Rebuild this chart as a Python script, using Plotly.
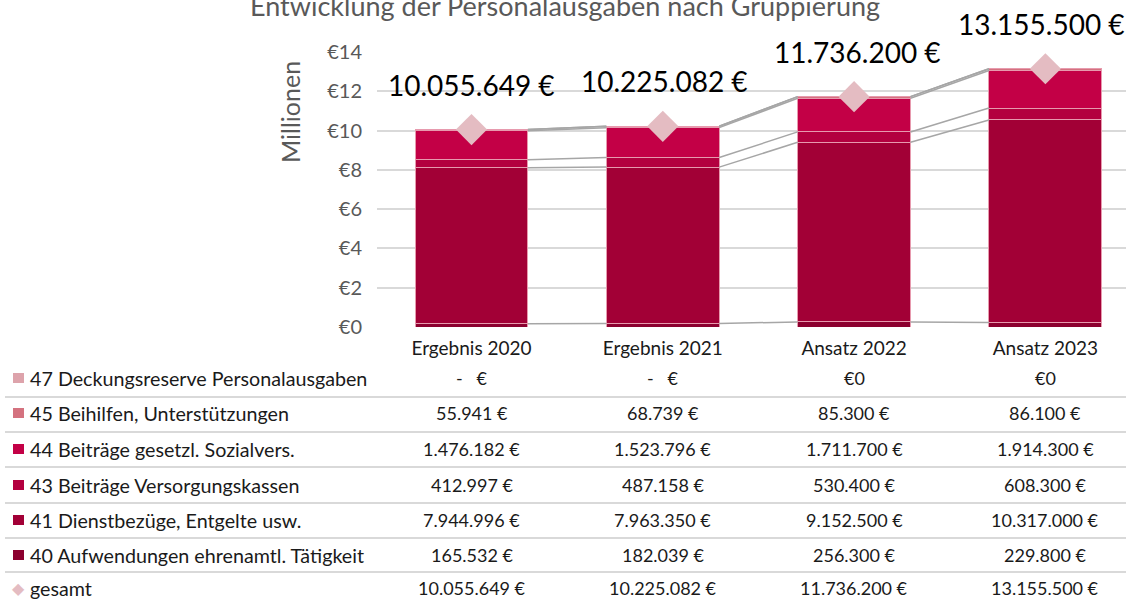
import plotly.graph_objects as go

# ---------------- data ----------------
categories = ["Ergebnis 2020", "Ergebnis 2021", "Ansatz 2022", "Ansatz 2023"]

# stacked from bottom to top
series_names = [
    "40 Aufwendungen ehrenamtl. Tätigkeit",
    "41 Dienstbezüge, Entgelte usw.",
    "43 Beiträge Versorgungskassen",
    "44 Beiträge gesetzl. Sozialvers.",
    "45 Beihilfen, Unterstützungen",
    "47 Deckungsreserve Personalausgaben",
]
v40 = [165532, 182039, 256300, 229800]
v41 = [7944996, 7963350, 9152500, 10317000]
v43 = [412997, 487158, 530400, 608300]
v44 = [1476182, 1523796, 1711700, 1914300]
v45 = [55941, 68739, 85300, 86100]
v47 = [0, 0, 0, 0]
gesamt = [10055649, 10225082, 11736200, 13155500]
zero_labels = ["-\u00a0\u00a0\u00a0€", "-\u00a0\u00a0\u00a0€", "€0", "€0"]

series_values = [v40, v41, v43, v44, v45, v47]
series_colors = ["#8C002F", "#A20036", "#B3003F", "#C30046", "#D4727F", "#DDA3AB"]
diamond_color = "#E4BCC2"

title = "Entwicklung der Personalausgaben nach Gruppierung"
y_unit_label = "Millionen"

# ---------------- layout geometry ----------------
W, H = 1126, 599
ML, MR, MT, MB = 377, 0, 52, 272
PW = W - ML - MR
PH = H - MT - MB
BAR_W = 0.59
FONT = "Lato"


def px_x(px):
    return (px - ML) / PW


def px_y(py):
    return (H - MB - py) / PH


def fmt(v):
    return f"{v:,.0f}".replace(",", ".") + " €"


xs = list(range(len(categories)))
fig = go.Figure()

# stacked bars
for name, vals, col in zip(series_names, series_values, series_colors):
    fig.add_trace(go.Bar(
        x=xs, y=[v / 1e6 for v in vals], name=name, width=BAR_W,
        marker=dict(color=col, line=dict(color="#E79AAE", width=1)),
        hoverinfo="skip",
    ))

# series lines between bars
cum = [0.0] * len(categories)
lx, ly = [], []
for vals in series_values:
    cum = [c + v / 1e6 for c, v in zip(cum, vals)]
    for i in range(len(categories) - 1):
        lx += [xs[i] + BAR_W / 2, xs[i + 1] - BAR_W / 2, None]
        ly += [cum[i], cum[i + 1], None]
fig.add_trace(go.Scatter(x=lx, y=ly, mode="lines",
                         line=dict(color="#A6A6A6", width=1.5),
                         hoverinfo="skip", showlegend=False))

# gesamt diamonds
fig.add_trace(go.Scatter(
    x=xs, y=[g / 1e6 for g in gesamt], mode="markers", name="gesamt",
    marker=dict(symbol="diamond", size=24, color=diamond_color),
    cliponaxis=False, hoverinfo="skip",
))

annotations = []
# data labels above diamonds
label_xshift = [0, 2, 3, -4]
for i, g in enumerate(gesamt):
    annotations.append(dict(
        x=xs[i], y=g / 1e6, xref="x", yref="y", text=fmt(g), showarrow=False,
        yshift=45, xshift=label_xshift[i],
        font=dict(family=FONT, size=28, color="#000000"),
    ))

# title (cropped at top like the reference)
annotations.append(dict(
    x=px_x(565), y=px_y(5), xref="paper", yref="paper", text=title,
    showarrow=False, xanchor="center", yanchor="middle",
    font=dict(family=FONT, size=27, color="#595959"),
))

# display-unit label
annotations.append(dict(
    x=px_x(290), y=px_y(112), xref="paper", yref="paper", text=y_unit_label,
    showarrow=False, xanchor="center", yanchor="middle", textangle=-90,
    font=dict(family=FONT, size=25, color="#595959"),
))

# data table
row_centers = [378, 413, 449, 485, 520, 555, 588]
table_rows = list(reversed(list(zip(series_names, series_values, series_colors))))
shapes = []
for r, (name, vals, col) in enumerate(table_rows):
    yc = row_centers[r]
    shapes.append(dict(type="rect", xref="paper", yref="paper",
                       x0=px_x(13), x1=px_x(24), y0=px_y(yc - 5), y1=px_y(yc + 5),
                       fillcolor=col, line=dict(width=0)))
    annotations.append(dict(x=px_x(28), y=px_y(yc), xref="paper", yref="paper",
                            text=name, showarrow=False, xanchor="left", yanchor="middle",
                            font=dict(family=FONT, size=19.7, color="#1a1a1a")))
    for i, v in enumerate(vals):
        txt = fmt(v) if v != 0 else zero_labels[i]
        annotations.append(dict(x=xs[i], y=px_y(yc), xref="x", yref="paper",
                                text=txt, showarrow=False, xanchor="center", yanchor="middle",
                                font=dict(family=FONT, size=18, color="#1a1a1a")))
# gesamt row
yc = row_centers[-1]
annotations.append(dict(x=px_x(18), y=px_y(yc), xref="paper", yref="paper",
                        text="◆", showarrow=False, xanchor="center", yanchor="middle",
                        font=dict(family="DejaVu Sans", size=16, color=diamond_color)))
annotations.append(dict(x=px_x(28), y=px_y(yc), xref="paper", yref="paper",
                        text="gesamt", showarrow=False, xanchor="left", yanchor="middle",
                        font=dict(family=FONT, size=19.7, color="#1a1a1a")))
for i, g in enumerate(gesamt):
    annotations.append(dict(x=xs[i], y=px_y(yc), xref="x", yref="paper",
                            text=fmt(g), showarrow=False, xanchor="center", yanchor="middle",
                            font=dict(family=FONT, size=18, color="#1a1a1a")))

# row separators
for sy in [397, 432, 467, 503, 538, 572]:
    shapes.append(dict(type="line", xref="paper", yref="paper",
                       x0=px_x(5), x1=px_x(W), y0=px_y(sy), y1=px_y(sy),
                       line=dict(color="#D9D9D9", width=2)))

x_left = (ML - 471.5) / 191.3
x_right = (W - MR - 471.5) / 191.3

fig.update_layout(
    width=W, height=H,
    margin=dict(l=ML, r=MR, t=MT, b=MB, pad=0),
    paper_bgcolor="white", plot_bgcolor="white",
    barmode="stack", showlegend=False,
    font=dict(family=FONT),
    xaxis=dict(range=[x_left, x_right], tickvals=xs, ticktext=categories,
               showgrid=False, zeroline=False, showline=False, ticks="",
               ticklabelstandoff=8,
               tickfont=dict(family=FONT, size=19, color="#1a1a1a")),
    yaxis=dict(range=[0, 14.01], dtick=2, tick0=0, tickprefix="€",
               showgrid=True, gridcolor="#D9D9D9", gridwidth=2,
               zeroline=False, showline=False, ticks="",
               ticklabelstandoff=14,
               tickfont=dict(family=FONT, size=20, color="#595959")),
    annotations=annotations, shapes=shapes,
)

fig.write_html("out.html", config={"displayModeBar": False},
               post_script="document.body.style.margin='0';document.body.style.overflow='hidden';")
